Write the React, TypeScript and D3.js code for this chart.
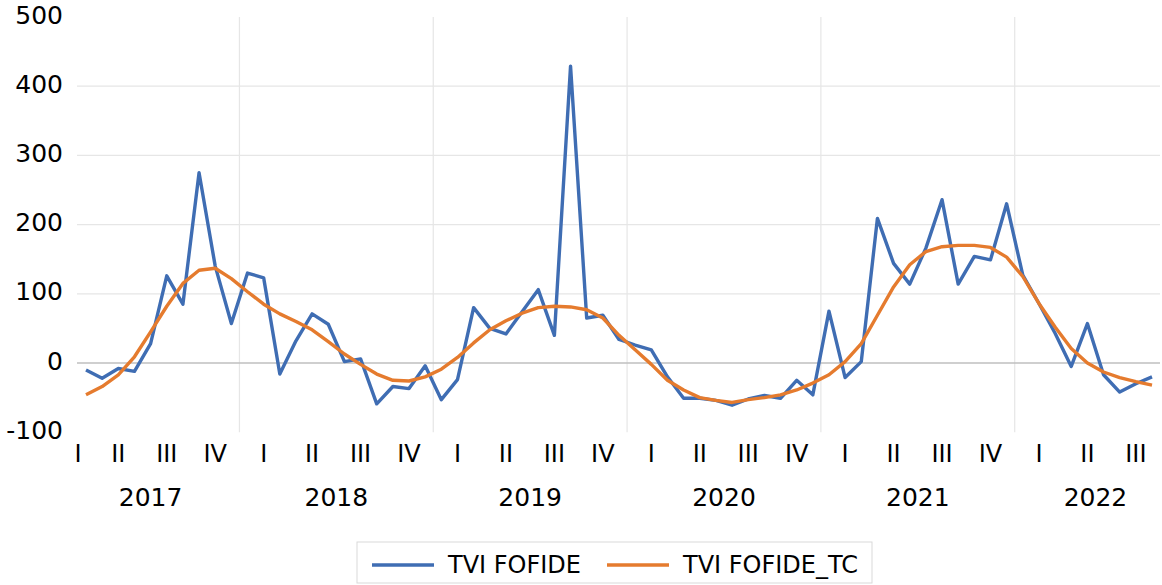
import React from "react";
import * as d3 from "d3";

// Monthly series, March 2017 – September 2022
const startYear = 2017;
const startMonth = 2; // March (0-based)

const tviFofide: number[] = [
  // 2017 Mar–Dec
  -10, -22, -8, -12, 28, 126, 85, 275, 140, 57,
  // 2018
  130, 123, -16, 32, 71, 56, 2, 6, -59, -34, -37, -4,
  // 2019
  -53, -24, 80, 50, 42, 74, 106, 40, 429, 65, 69, 34,
  // 2020
  26, 19, -20, -51, -51, -54, -61, -52, -47, -51, -25, -46,
  // 2021
  75, -21, 2, 209, 144, 114, 166, 236, 114, 154, 149, 230,
  // 2022 Jan–Sep
  127, 86, 43, -5, 57, -17, -42, -30, -20,
];

const tviFofideTc: number[] = [
  // 2017 Mar–Dec
  -46, -34, -17, 9, 45, 82, 115, 134, 137, 122,
  // 2018
  103, 85, 71, 60, 48, 31, 13, -2, -16, -25, -26, -20,
  // 2019
  -9, 8, 29, 48, 61, 72, 80, 82, 81, 77, 65, 40,
  // 2020
  19, -2, -25, -39, -50, -54, -57, -53, -50, -46, -39, -29,
  // 2021
  -17, 2, 28, 69, 110, 142, 161, 168, 170, 170, 167, 153,
  // 2022 Jan–Sep
  125, 86, 52, 21, 0, -13, -21, -27, -32,
];

const yTicks: number[] = [-100, 0, 100, 200, 300, 400, 500];
const quarterNames: string[] = ["I", "II", "III", "IV"];
const seriesNames: string[] = ["TVI FOFIDE", "TVI FOFIDE_TC"];
const seriesColors: string[] = ["#3F6DB3", "#E57B2E"];

const FONT = "'DejaVu Sans', sans-serif";

export default function App() {
  const width = 1162;
  const height = 585;
  const n = tviFofide.length;

  const plotLeft = 77;
  const plotRight = 1160;
  const x = d3.scaleLinear().domain([0, n - 1]).range([86, 1152]);
  const step = x(1) - x(0);
  const y = d3.scaleLinear().domain([-100, 500]).range([432.2, 17]);

  const months = d3.range(n).map((i) => {
    const m = startMonth + i;
    return { i, year: startYear + Math.floor(m / 12), month: m % 12 };
  });

  // group label centres; partial groups at the data edges span one extra empty category outward
  const centerOf = (idx: number[], full: number) => {
    const ext = [...idx];
    if (idx.length < full) {
      if (idx[0] === 0) ext.push(-1);
      if (idx[idx.length - 1] === n - 1) ext.push(n);
    }
    return x(d3.mean(ext) as number);
  };

  const years = Array.from(new Set(months.map((d) => d.year)));
  const yearGroups = years.map((yr) => {
    const idx = months.filter((d) => d.year === yr).map((d) => d.i);
    return { yr, idx, cx: centerOf(idx, 12) };
  });
  const quarterGroups: { label: string; cx: number }[] = [];
  years.forEach((yr) => {
    for (let q = 0; q < 4; q++) {
      const idx = months
        .filter((d) => d.year === yr && Math.floor(d.month / 3) === q)
        .map((d) => d.i);
      if (idx.length) quarterGroups.push({ label: quarterNames[q], cx: centerOf(idx, 3) });
    }
  });
  const boundaries = yearGroups.slice(1).map((g) => x(g.idx[0]) - step / 2);

  const line = d3
    .line<number>()
    .x((_, i) => x(i))
    .y((v) => y(v));

  const series = [tviFofide, tviFofideTc];

  return (
    <svg
      width={width}
      height={height}
      style={{ position: "absolute", left: 0, top: 0, background: "#fff" }}
      fontFamily={FONT}
    >
      {yTicks
        .filter((t) => t > -100 && t < 500 && t !== 0)
        .map((t) => (
          <line key={t} x1={plotLeft} x2={plotRight} y1={y(t)} y2={y(t)} stroke="#E6E6E6" strokeWidth={1.2} />
        ))}
      {boundaries.map((bx, i) => (
        <line key={i} x1={bx} x2={bx} y1={y(500)} y2={y(-100)} stroke="#E6E6E6" strokeWidth={1.2} />
      ))}
      <line x1={plotLeft} x2={plotRight} y1={y(0)} y2={y(0)} stroke="#BFBFBF" strokeWidth={1.3} />

      {yTicks.map((t) => (
        <text key={t} x={63} y={y(t) + 6.5} textAnchor="end" fontSize={25} fill="#000">
          {t}
        </text>
      ))}

      {series.map((s, k) => (
        <path
          key={k}
          d={line(s) as string}
          fill="none"
          stroke={seriesColors[k]}
          strokeWidth={3.4}
          strokeLinejoin="round"
        />
      ))}

      {quarterGroups.map((q, i) => (
        <text key={i} x={q.cx} y={462} textAnchor="middle" fontSize={24} fill="#000">
          {q.label}
        </text>
      ))}
      {yearGroups.map((g) => (
        <text key={g.yr} x={g.cx} y={506} textAnchor="middle" fontSize={25} fill="#000">
          {g.yr}
        </text>
      ))}

      <rect x={357} y={542} width={515} height={41} fill="#fff" stroke="#D9D9D9" strokeWidth={1} />
      {seriesNames.map((name, k) => {
        const lx = k === 0 ? 372 : 607;
        return (
          <g key={name}>
            <line x1={lx} x2={lx + 62} y1={565} y2={565} stroke={seriesColors[k]} strokeWidth={3.4} />
            <text x={lx + 76} y={573} fontSize={24} fill="#000">
              {name}
            </text>
          </g>
        );
      })}
    </svg>
  );
}
